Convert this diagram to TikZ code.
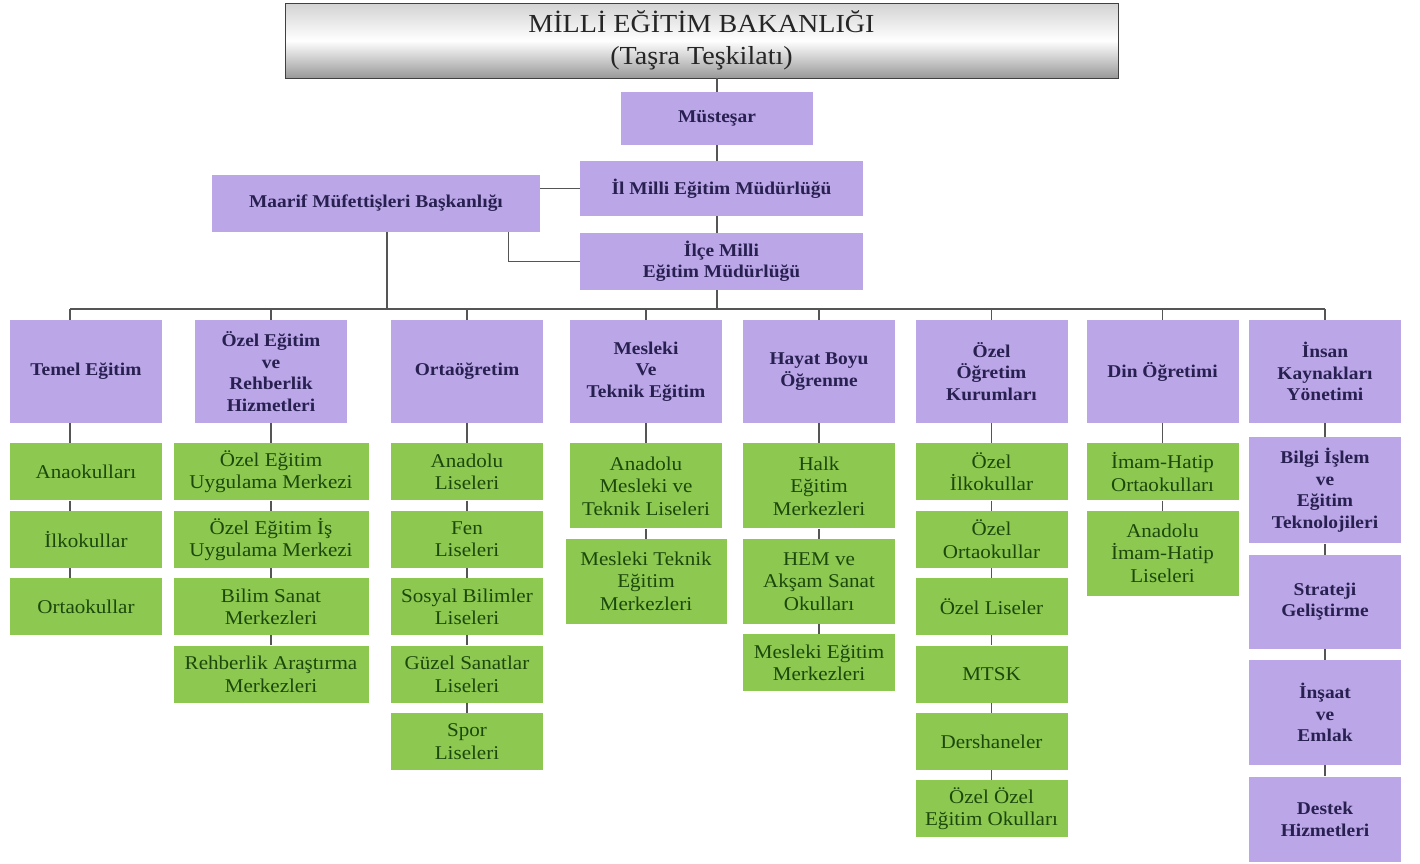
\documentclass[tikz,border=0pt]{standalone}
\usepackage{fontspec}
\setmainfont{Liberation Serif}[FakeStretch=1.08]
\usetikzlibrary{positioning,calc}

\definecolor{mor}{RGB}{187,167,232}
\definecolor{yesil}{RGB}{141,200,80}
\definecolor{moryazi}{RGB}{40,32,80}
\definecolor{yesilyazi}{RGB}{28,72,12}
\definecolor{hatrengi}{RGB}{85,85,85}

\begin{document}
\begin{tikzpicture}[x=1pt,y=-1pt,node distance=10pt,
	baslik/.style={draw=gray!50!black,top color=gray!35,bottom color=gray!80,middle color=white,text=black!85,font=\fontsize{26}{32}\selectfont,align=center,inner sep=0pt},
	birim/.style={fill=mor,text=moryazi,font=\fontsize{18}{21.5}\selectfont\bfseries,align=center,inner sep=0pt,minimum width=152pt},
	okul/.style={fill=yesil,text=yesilyazi,font=\fontsize{19.5}{22.5}\selectfont,align=center,inner sep=0pt,minimum width=152pt,minimum height=57pt},
	baglanti/.style={draw=hatrengi,line width=1.3pt}]
	\useasboundingbox (0,0) rectangle (1420,863);

	\node[baslik,minimum width=833pt,minimum height=75pt] (bakanlik) at (701.5,40.5) {MİLLİ EĞİTİM BAKANLIĞI\\(Taşra Teşkilatı)};
	\node[birim,minimum width=192pt,minimum height=53pt] (mustesar) at (717,118.5) {Müsteşar};
	\node[birim,minimum width=283pt,minimum height=55pt] (il) at (721.5,188.5) {İl Milli Eğitim Müdürlüğü};
	\node[birim,minimum width=328pt,minimum height=57pt] (maarif) at (376,203.5) {Maarif Müfettişleri Başkanlığı};
	\node[birim,minimum width=283pt,minimum height=57pt] (ilce) at (721.5,261.5) {İlçe Milli\\Eğitim Müdürlüğü};
	\coordinate (bus) at (0,309);

	\node[birim,minimum height=103pt] (temel) at (86,371.5) {Temel Eğitim};
	\node[birim,minimum height=103pt] (ozelegitim) at (271,371.5) {Özel Eğitim\\ve\\Rehberlik\\Hizmetleri};
	\node[birim,minimum height=103pt] (ortaogretim) at (467,371.5) {Ortaöğretim};
	\node[birim,minimum height=103pt] (mesleki) at (646,371.5) {Mesleki\\Ve\\Teknik Eğitim};
	\node[birim,minimum height=103pt] (hayatboyu) at (819,371.5) {Hayat Boyu\\Öğrenme};
	\node[birim,minimum height=103pt] (ozelogretim) at (991.5,371.5) {Özel\\Öğretim\\Kurumları};
	\node[birim,minimum height=103pt] (din) at (1162.5,371.5) {Din Öğretimi};
	\node[birim,minimum height=103pt] (insan) at (1325,371.5) {İnsan\\Kaynakları\\Yönetimi};

	\node[okul,below=20pt of temel] (anaokul) {Anaokulları};
	\node[okul,below=of anaokul] (ilkokul) {İlkokullar};
	\node[okul,below=of ilkokul] (ortaokul) {Ortaokullar};

	\node[okul,minimum width=195pt,below=20pt of ozelegitim] (oeum) {Özel Eğitim\\Uygulama Merkezi};
	\node[okul,minimum width=195pt,below=of oeum] (oeium) {Özel Eğitim İş\\Uygulama Merkezi};
	\node[okul,minimum width=195pt,below=of oeium] (bilsem) {Bilim Sanat\\Merkezleri};
	\node[okul,minimum width=195pt,below=of bilsem] (ram) {Rehberlik Araştırma\\Merkezleri};

	\node[okul,below=20pt of ortaogretim] (anadolu) {Anadolu\\Liseleri};
	\node[okul,below=of anadolu] (fen) {Fen\\Liseleri};
	\node[okul,below=of fen] (sosyal) {Sosyal Bilimler\\Liseleri};
	\node[okul,below=of sosyal] (guzel) {Güzel Sanatlar\\Liseleri};
	\node[okul,below=of guzel] (spor) {Spor\\Liseleri};

	\node[okul,minimum height=85pt,below=20pt of mesleki] (amtl) {Anadolu\\Mesleki ve\\Teknik Liseleri};
	\node[okul,minimum width=161pt,minimum height=85pt,below=of amtl] (mtem) {Mesleki Teknik\\Eğitim\\Merkezleri};

	\node[okul,minimum height=85pt,below=20pt of hayatboyu] (halk) {Halk\\Eğitim\\Merkezleri};
	\node[okul,minimum height=85pt,below=of halk] (hem) {HEM ve\\Akşam Sanat\\Okulları};
	\node[okul,below=of hem] (mem) {Mesleki Eğitim\\Merkezleri};

	\node[okul,below=20pt of ozelogretim] (ozelilk) {Özel\\İlkokullar};
	\node[okul,below=of ozelilk] (ozelorta) {Özel\\Ortaokullar};
	\node[okul,below=of ozelorta] (ozellise) {Özel Liseler};
	\node[okul,below=of ozellise] (mtsk) {MTSK};
	\node[okul,below=of mtsk] (dershane) {Dershaneler};
	\node[okul,below=of dershane] (ozelozel) {Özel Özel\\Eğitim Okulları};

	\node[okul,below=20pt of din] (iho) {İmam-Hatip\\Ortaokulları};
	\node[okul,minimum height=85pt,below=of iho] (aihl) {Anadolu\\İmam-Hatip\\Liseleri};

	\node[birim,minimum height=106pt,below=14pt of insan] (bilgi) {Bilgi İşlem\\ve\\Eğitim\\Teknolojileri};
	\node[birim,minimum height=94pt,below=11pt of bilgi] (strateji) {Strateji\\Geliştirme};
	\node[birim,minimum height=105pt,below=11pt of strateji] (insaat) {İnşaat\\ve\\Emlak};
	\node[birim,minimum height=85pt,below=11pt of insaat] (destek) {Destek\\Hizmetleri};

	\draw[baglanti] (bakanlik.south -| mustesar) -- (mustesar.north);
	\draw[baglanti] (mustesar.south) -- (mustesar.south |- il.north);
	\draw[baglanti] (il.south -| mustesar) -- (ilce.north -| mustesar);
	\draw[baglanti] (il.west) -- (il.west -| maarif.east);
	\draw[baglanti] ([xshift=-32pt]maarif.south east) |- (ilce.west);
	\draw[baglanti] ([xshift=11pt]maarif.south) -- ([xshift=11pt]maarif.south |- bus);
	\draw[baglanti] (ilce.south -| mustesar) -- (bus -| mustesar);

	\draw[baglanti] ([xshift=-16pt]temel.north |- bus) -- (insan.north |- bus);
	\draw[baglanti] ([xshift=-16pt]temel.north |- bus) -- ([xshift=-16pt]temel.north);
	\foreach \b in {ozelegitim,ortaogretim,mesleki,hayatboyu,ozelogretim,din,insan}
		\draw[baglanti] (\b.north |- bus) -- (\b.north);

	\foreach \a/\b in {temel/anaokul,anaokul/ilkokul,ilkokul/ortaokul}
		\draw[baglanti] ([xshift=-16pt]\a.south) -- ([xshift=-16pt]\b.north);
	\foreach \a/\b in {ozelegitim/oeum,oeum/oeium,oeium/bilsem,bilsem/ram,
		ortaogretim/anadolu,anadolu/fen,fen/sosyal,sosyal/guzel,guzel/spor,
		mesleki/amtl,amtl/mtem,
		hayatboyu/halk,halk/hem,hem/mem,
		ozelogretim/ozelilk,ozelilk/ozelorta,ozelorta/ozellise,ozellise/mtsk,mtsk/dershane,dershane/ozelozel,
		din/iho,iho/aihl,
		insan/bilgi,bilgi/strateji,strateji/insaat,insaat/destek}
		\draw[baglanti] (\a.south) -- (\a.south |- \b.north);
\end{tikzpicture}
\end{document}
